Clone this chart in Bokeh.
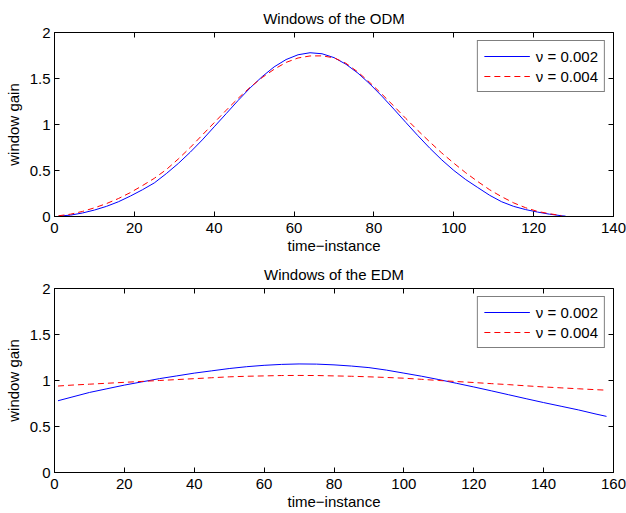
from bokeh.plotting import figure
from bokeh.layouts import column
from bokeh.models import Range1d, LinearAxis, FixedTicker, NumeralTickFormatter, CustomJSTickFormatter
from bokeh.embed import file_html
from bokeh.resources import INLINE

# ---------------- data ----------------
odm_t_a = [1, 4, 7, 10, 13, 16, 19, 22, 25, 28, 31, 34, 37, 40, 43, 46, 49, 52, 55, 58, 61, 64,
           67, 70, 73, 76, 79, 82, 85, 88, 91, 94, 97, 100, 103, 106, 109, 112, 115, 118, 121, 124, 127, 128]
odm_a = [0.004, 0.015, 0.038, 0.07, 0.11, 0.16, 0.222, 0.29, 0.365, 0.466, 0.576, 0.699, 0.832, 0.975,
         1.118, 1.262, 1.398, 1.52, 1.626, 1.706, 1.758, 1.78,
         1.769, 1.727, 1.655, 1.558, 1.44, 1.308, 1.167, 1.022, 0.879, 0.742, 0.615, 0.501, 0.401,
         0.315, 0.23, 0.16, 0.11, 0.075, 0.048, 0.025, 0.008, 0.004]
odm_t_b = [1, 4, 7, 10, 13, 16, 19, 22, 25, 28, 31, 34, 37, 40, 43, 46, 49, 52, 55, 58, 61, 64,
           67, 70, 73, 76, 79, 82, 85, 88, 91, 94, 97, 100, 103, 106, 109, 112, 115, 118, 121, 124, 127]
odm_b = [0.008, 0.025, 0.055, 0.094, 0.14, 0.195, 0.26, 0.335, 0.415, 0.51, 0.625, 0.75, 0.885, 1.02,
         1.155, 1.285, 1.405, 1.51, 1.60, 1.675, 1.723, 1.745,
         1.746, 1.725, 1.665, 1.57, 1.455, 1.33, 1.20, 1.065, 0.935, 0.81, 0.69, 0.58, 0.475,
         0.38, 0.29, 0.215, 0.148, 0.095, 0.055, 0.03, 0.01]

edm_t = [1, 5, 10, 15, 20, 25, 30, 35, 40, 45, 50, 55, 60, 65, 70, 75, 80, 85, 90, 95, 100,
         105, 110, 115, 120, 125, 130, 135, 140, 145, 150, 155, 158]
edm_a = [0.78, 0.82, 0.87, 0.91, 0.95, 0.985, 1.02, 1.05, 1.08, 1.105, 1.13, 1.15, 1.165, 1.175, 1.18,
         1.178, 1.17, 1.157, 1.14, 1.113, 1.08, 1.047, 1.01, 0.97, 0.93, 0.888, 0.845, 0.802, 0.76,
         0.72, 0.68, 0.635, 0.61]
edm_b = [0.94, 0.95, 0.96, 0.97, 0.98, 0.99, 1.0, 1.01, 1.02, 1.03, 1.04, 1.046, 1.05, 1.054, 1.055,
         1.054, 1.05, 1.046, 1.04, 1.033, 1.025, 1.013, 1.0, 0.989, 0.978, 0.966, 0.955, 0.942, 0.93,
         0.92, 0.91, 0.90, 0.895]

labels = ["\u03bd = 0.002", "\u03bd = 0.004"]
titles = ["Windows of the ODM", "Windows of the EDM"]
x_label = "time\u2212instance"
y_label = "window gain"
x_ticks_odm = [0, 20, 40, 60, 80, 100, 120, 140]
x_ticks_edm = [0, 20, 40, 60, 80, 100, 120, 140, 160]
y_ticks = [0, 0.5, 1, 1.5, 2]

FONT = "Liberation Sans"
FS = "15px"


def make_fig(title, xmax, xticks, ta, ya, tb, yb, top_border, bottom_border):
    p = figure(frame_width=559, frame_height=184, output_backend="svg", toolbar_location=None,
               x_range=Range1d(0, xmax), y_range=Range1d(0, 2),
               min_border_left=54, min_border_right=13,
               min_border_top=top_border, min_border_bottom=bottom_border,
               background_fill_color="white", border_fill_color="white")
    p.title.text = title
    p.title.align = "center"
    p.title.vertical_align = "top"
    p.title.text_font = FONT
    p.title.text_font_size = FS
    p.title.text_font_style = "normal"
    p.title.text_color = "black"
    p.title.standoff = 8

    p.xgrid.visible = False
    p.ygrid.visible = False
    p.outline_line_color = "black"
    p.outline_line_width = 1
    p.outline_line_alpha = 1

    p.xaxis.ticker = FixedTicker(ticks=xticks)
    p.yaxis.ticker = FixedTicker(ticks=y_ticks)
    p.yaxis.formatter = NumeralTickFormatter(format="0.[0]")
    for ax in (p.xaxis, p.yaxis):
        ax.major_tick_in = 5
        ax.major_tick_out = 0
        ax.minor_tick_line_color = None
        ax.axis_line_color = "black"
        ax.major_tick_line_color = "black"
        ax.major_label_text_font = FONT
        ax.major_label_text_font_size = FS
        ax.major_label_text_color = "black"
        ax.axis_label_text_font = FONT
        ax.axis_label_text_font_size = FS
        ax.axis_label_text_font_style = "normal"
        ax.axis_label_text_color = "black"
    p.xaxis.axis_label = x_label
    p.yaxis.axis_label = y_label
    p.xaxis.major_label_standoff = 6
    p.xaxis.axis_label_standoff = 1
    p.yaxis.major_label_standoff = 4
    p.yaxis.axis_label_standoff = 5

    # box ticks on top and right (no labels)
    blank = CustomJSTickFormatter(code="return ''")
    top_ax = LinearAxis(ticker=FixedTicker(ticks=xticks), formatter=blank,
                        major_label_text_font_size="1px",
                        major_tick_in=5, major_tick_out=0, minor_tick_line_color=None,
                        axis_line_color=None, major_label_standoff=0)
    right_ax = LinearAxis(ticker=FixedTicker(ticks=y_ticks), formatter=blank,
                          major_label_text_font_size="1px",
                          major_tick_in=5, major_tick_out=0, minor_tick_line_color=None,
                          axis_line_color=None, major_label_standoff=0)
    p.add_layout(top_ax, "above")
    p.add_layout(right_ax, "right")

    p.line(ta, ya, line_color="#0000ff", line_width=1, legend_label=labels[0])
    p.line(tb, yb, line_color="#ff0000", line_width=1, line_dash="6 4", legend_label=labels[1])

    lg = p.legend[0]
    lg.location = "top_right"
    lg.margin = 8
    lg.padding = 6
    lg.spacing = 2
    lg.label_height = 18
    lg.glyph_height = 18
    lg.glyph_width = 46
    lg.label_standoff = 6
    lg.label_text_font = FONT
    lg.label_text_font_size = FS
    lg.label_text_color = "black"
    lg.border_line_color = "black"
    lg.border_line_width = 1.5
    lg.background_fill_color = "white"
    lg.background_fill_alpha = 1
    return p


p1 = make_fig(titles[0], 140, x_ticks_odm, odm_t_a, odm_a, odm_t_b, odm_b, 32, 40)
p2 = make_fig(titles[1], 160, x_ticks_edm, edm_t, edm_a, edm_t, edm_b, 32, 41)

layout = column(p1, p2, spacing=0)
open("out.html", "w").write(file_html(layout, INLINE))
